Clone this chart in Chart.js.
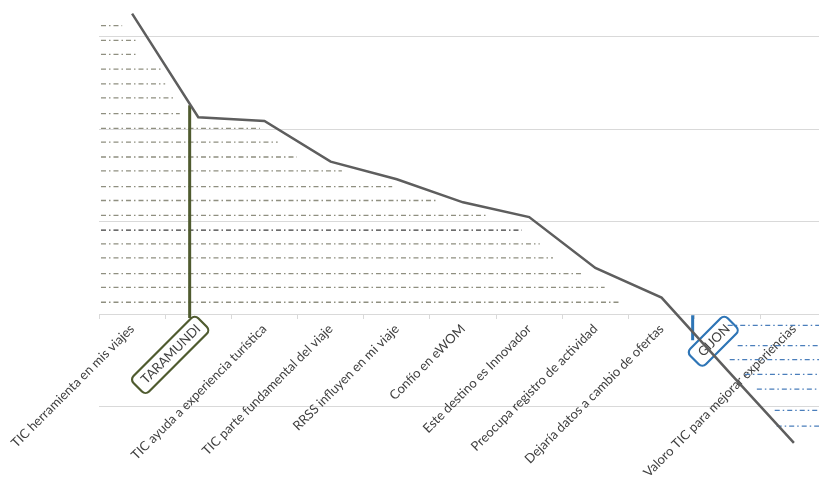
<!DOCTYPE html>
<html>
<head>
<meta charset="utf-8">
<script src="https://cdn.jsdelivr.net/npm/chart.js@4.4.1/dist/chart.umd.min.js"></script>
<style>
  html, body { margin: 0; padding: 0; background: #fff; overflow: hidden; }
</style>
</head>
<body>
<canvas id="ticChart" width="830" height="496"></canvas>
<script>
const categories = [
    "TIC herramienta en mis viajes",
    "TARAMUNDI",
    "TIC ayuda a experiencia turística",
    "TIC parte fundamental del viaje",
    "RRSS influyen en mi viaje",
    "Confío en eWOM",
    "Este destino es Innovador",
    "Preocupa registro de actividad",
    "Dejaría datos a cambio de ofertas",
    "GIJON",
    "Valoro TIC para mejorar experiencias"
];
const boxedLabels = ["TARAMUNDI", "GIJON"];
const scores = [3.25, 2.13, 2.09, 1.65, 1.46, 1.21, 1.05, 0.50, 0.18, -0.61, -1.39];

// dash-dot guide lines (x in category widths from the left edge)
const leftLevels = [3.12, 2.96, 2.81, 2.65, 2.49, 2.34, 2.17, 2.01, 1.86, 1.70,
                    1.55, 1.38, 1.23, 1.07, 0.91, 0.76, 0.61, 0.44, 0.29, 0.13];
const leftEnds = [0.35, 0.57, 0.57, 0.95, 1.00, 1.15, 1.22, 2.43, 2.70, 2.99,
                  3.67, 4.43, 5.12, 5.88, 6.39, 6.66, 6.86, 7.31, 7.64, 7.87];
const leftStart = 0.03;
const rightLevels = [-0.12, -0.34, -0.49, -0.65, -0.81, -1.04, -1.21];
const rightStarts = [9.50, 9.65, 9.53, 9.76, 9.94, 10.21, 10.24];
const rightEnd = 11;

// vertical markers
const markerX = [1.37, 8.97];
const markerTop = [2.26, -0.01];
const markerBottom = [-0.04, -0.28];
const markerColors = ["#4f5b2f", "#2e75b6"];

const datasets = [];
datasets.push({
    data: scores,
    xAxisID: "x",
    borderColor: "#5e5e5e",
    borderWidth: 2.5,
    pointRadius: 0,
    order: 0
});
leftLevels.forEach(function (lv, i) {
    datasets.push({
        data: [{ x: leftStart, y: lv }, { x: leftEnds[i], y: lv }],
        xAxisID: "x2",
        borderColor: i === 14 ? "#3c3c3c" : "#8f8f80",
        borderWidth: 1.3,
        borderDash: [5, 3, 1.5, 3],
        pointRadius: 0,
        order: 2
    });
});
rightLevels.forEach(function (lv, i) {
    datasets.push({
        data: [{ x: rightStarts[i], y: lv }, { x: rightEnd, y: lv }],
        xAxisID: "x2",
        borderColor: "#4a7ebb",
        borderWidth: 1.3,
        borderDash: [5, 3, 1.5, 3],
        pointRadius: 0,
        order: 2
    });
});
markerX.forEach(function (mx, i) {
    datasets.push({
        data: [{ x: mx, y: markerTop[i] }, { x: mx, y: markerBottom[i] }],
        xAxisID: "x2",
        borderColor: markerColors[i],
        borderWidth: 3,
        pointRadius: 0,
        order: 1
    });
});

function roundedRect(ctx, x, y, w, h, r) {
    ctx.beginPath();
    ctx.moveTo(x + r, y);
    ctx.lineTo(x + w - r, y);
    ctx.arcTo(x + w, y, x + w, y + r, r);
    ctx.lineTo(x + w, y + h - r);
    ctx.arcTo(x + w, y + h, x + w - r, y + h, r);
    ctx.lineTo(x + r, y + h);
    ctx.arcTo(x, y + h, x, y + h - r, r);
    ctx.lineTo(x, y + r);
    ctx.arcTo(x, y, x + r, y, r);
    ctx.closePath();
}

const labelFont = 13;

// rounded frames around the two place-name labels
const labelBoxes = {
    id: "labelBoxes",
    beforeDatasetsDraw(chart) {
        const ctx = chart.ctx;
        const xs = chart.scales.x;
        const ys = chart.scales.y;
        const half = labelFont * 1.2 / 2;
        ctx.save();
        ctx.font = labelFont + "px Lato";
        boxedLabels.forEach(function (name, k) {
            const i = categories.indexOf(name);
            const px = xs.getPixelForValue(i) - half * Math.SQRT1_2;
            const py = ys.getPixelForValue(0) + 7;
            const w = ctx.measureText(name).width;
            ctx.save();
            ctx.translate(px, py);
            ctx.rotate(-Math.PI / 4);
            roundedRect(ctx, -w - 8, half - 11, w + 14, 22, 5);
            ctx.lineWidth = 2.2;
            ctx.strokeStyle = markerColors[k];
            ctx.stroke();
            ctx.restore();
        });
        ctx.restore();
    }
};

new Chart(document.getElementById("ticChart"), {
    type: "line",
    data: { labels: categories, datasets: datasets },
    options: {
        responsive: false,
        animation: false,
        layout: { padding: { left: 99, right: 3, top: 9, bottom: 43 } },
        scales: {
            x: {
                type: "category",
                position: { y: 0 },
                offset: true,
                grid: { offset: true, drawOnChartArea: false, tickLength: 4, color: "#d9d9d9" },
                border: { color: "#d9d9d9" },
                ticks: {
                    autoSkip: false,
                    maxRotation: 45,
                    minRotation: 45,
                    color: "#404040",
                    font: { family: "Lato", size: labelFont }
                }
            },
            x2: { type: "linear", min: 0, max: 11, display: false },
            y: {
                min: -1.5,
                max: 3.3,
                ticks: { display: false, stepSize: 1, includeBounds: false },
                grid: { color: "#d9d9d9", drawTicks: false },
                border: { display: false }
            }
        },
        plugins: {
            legend: { display: false },
            tooltip: { enabled: false }
        }
    },
    plugins: [labelBoxes]
});
</script>
</body>
</html>
